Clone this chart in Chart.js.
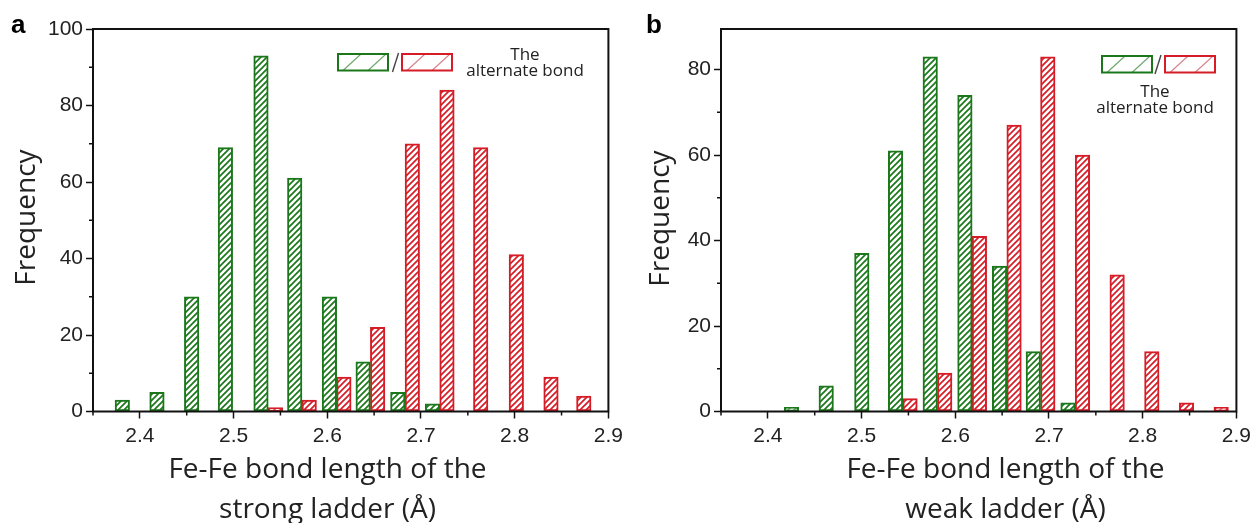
<!DOCTYPE html>
<html><head><meta charset="utf-8">
<script src="https://cdn.jsdelivr.net/npm/chart.js@4.4.1/dist/chart.umd.min.js"></script>
<style>
html,body{margin:0;padding:0;background:#fff;}
#wrap{position:relative;width:1256px;height:523px;overflow:hidden;background:#fff;}
canvas{position:absolute;top:0;}
#ca{left:0}
#cb{left:628px}
</style></head><body>
<div id="wrap"><canvas id="ca" width="628" height="523"></canvas><canvas id="cb" width="628" height="523"></canvas></div>
<script>
// ---- data ----
const binsA  = [2.389, 2.426, 2.463, 2.499, 2.537, 2.573, 2.610, 2.646, 2.683, 2.720, 2.756, 2.794, 2.831, 2.866];
const greenA = [3, 5, 30, 69, 93, 61, 30, 13, 5, 2, 0, 0, 0, 0];
const redA   = [0, 0, 0, 0, 1, 3, 9, 22, 70, 84, 69, 41, 9, 4];

const binsB  = [2.433, 2.470, 2.508, 2.544, 2.581, 2.618, 2.655, 2.691, 2.728, 2.765, 2.802, 2.839, 2.876];
const greenB = [1, 6, 37, 61, 83, 74, 34, 14, 2, 0, 0, 0, 0];
const redB   = [0, 0, 0, 3, 9, 41, 67, 83, 60, 32, 14, 2, 1];

const xTicks  = [2.4, 2.5, 2.6, 2.7, 2.8, 2.9];
const xMinor  = [2.35, 2.45, 2.55, 2.65, 2.75, 2.85];
const yTicksA = [0, 20, 40, 60, 80, 100];
const yMinorA = [10, 30, 50, 70, 90];
const yTicksB = [0, 20, 40, 60, 80];
const yMinorB = [10, 30, 50, 70];

const xTitleA = ['Fe-Fe bond length of the', 'strong ladder (Å)'];
const xTitleB = ['Fe-Fe bond length of the', 'weak ladder (Å)'];
const yTitle = 'Frequency';
const legendText = ['The', 'alternate bond'];

const GREEN = '#1a781a';
const RED = '#d61c26';

function hatch(color) {
  const s = 6;
  const c = document.createElement('canvas'); c.width = s; c.height = s;
  const g = c.getContext('2d');
  g.fillStyle = '#fff'; g.fillRect(0, 0, s, s);
  g.strokeStyle = color; g.lineWidth = 1.7;
  g.beginPath();
  g.moveTo(0, s); g.lineTo(s, 0);
  g.moveTo(-1, 1); g.lineTo(1, -1);
  g.moveTo(s - 1, s + 1); g.lineTo(s + 1, s - 1);
  g.stroke();
  return g.createPattern(c, 'repeat');
}

function toPoints(bins, vals) {
  return bins.map((b, i) => ({ x: b, y: vals[i] === 0 ? null : vals[i] }));
}

function legendBox(ctx, x, y, w, h, color, light) {
  ctx.save();
  ctx.beginPath(); ctx.rect(x, y, w, h); ctx.clip();
  ctx.strokeStyle = light; ctx.lineWidth = 1.2;
  ctx.beginPath();
  [5, 30].forEach(o => { ctx.moveTo(x + o, y + h); ctx.lineTo(x + o + 18, y); });
  ctx.stroke();
  ctx.restore();
  ctx.strokeStyle = color; ctx.lineWidth = 2;
  ctx.strokeRect(x, y, w, h);
}

function decor(p) {
  return {
    id: 'decor',
    afterDraw(chart) {
      const ctx = chart.ctx, a = chart.chartArea, xs = chart.scales.x, ys = chart.scales.y;
      ctx.save();
      ctx.strokeStyle = '#111'; ctx.lineWidth = 1.5;
      ctx.beginPath();
      xMinor.forEach(v => { const px = xs.getPixelForValue(v); ctx.moveTo(px, a.bottom); ctx.lineTo(px, a.bottom + 4); });
      p.yMinor.forEach(v => { const py = ys.getPixelForValue(v); ctx.moveTo(a.left, py); ctx.lineTo(a.left - 4, py); });
      ctx.stroke();
      ctx.lineWidth = 2;
      ctx.strokeRect(a.left, a.top, a.right - a.left, a.bottom - a.top);
      ctx.fillStyle = '#222';
      ctx.font = '28px "Open Sans"';
      ctx.textAlign = 'center'; ctx.textBaseline = 'alphabetic';
      ctx.fillText(p.xTitle[0], p.tx, 478);
      ctx.fillText(p.xTitle[1], p.tx, 518);
      ctx.save();
      ctx.translate(p.yBase, p.yCenter); ctx.rotate(-Math.PI / 2);
      ctx.fillText(yTitle, 0, 0);
      ctx.restore();
      ctx.font = 'bold 26px "Liberation Sans"';
      ctx.textAlign = 'left';
      ctx.fillStyle = '#000';
      ctx.fillText(p.letter, p.letterX, 33);
      const L = p.legend;
      legendBox(ctx, L.gx, L.y, L.w, 16.5, GREEN, 'rgba(60,140,60,0.75)');
      legendBox(ctx, L.rx, L.y, L.w, 16.5, RED, 'rgba(200,90,100,0.75)');
      ctx.strokeStyle = '#444'; ctx.lineWidth = 1.4;
      ctx.beginPath(); ctx.moveTo(L.sx - 3, L.y + 18); ctx.lineTo(L.sx + 3, L.y - 1); ctx.stroke();
      ctx.fillStyle = '#222';
      ctx.font = '17px "Open Sans"'; ctx.textAlign = 'center';
      ctx.fillText(legendText[0], L.tx, L.b1);
      ctx.fillText(legendText[1], L.tx, L.b2);
      ctx.restore();
    }
  };
}

function makeChart(id, p) {
  const ctx = document.getElementById(id).getContext('2d');
  return new Chart(ctx, {
    type: 'bar',
    data: {
      datasets: [
        { data: toPoints(p.bins, p.green), backgroundColor: hatch(GREEN), borderColor: GREEN, borderWidth: 2, borderSkipped: false },
        { data: toPoints(p.bins, p.red), backgroundColor: hatch(RED), borderColor: RED, borderWidth: 2, borderSkipped: false }
      ]
    },
    options: {
      responsive: false, animation: false, devicePixelRatio: 1,
      layout: { padding: { top: 29, right: p.rightPad, left: 0, bottom: 0 } },
      datasets: { bar: { barThickness: 14.5, grouped: true } },
      plugins: { legend: { display: false }, tooltip: { enabled: false } },
      scales: {
        x: {
          type: 'linear', min: 2.35, max: 2.9, offset: false,
          afterBuildTicks: s => { s.ticks = xTicks.map(v => ({ value: v })); },
          afterFit: s => { s.height = 111.5; },
          grid: { offset: false, drawOnChartArea: false, drawTicks: true, tickLength: 7, tickColor: '#111', tickWidth: 1.5 },
          border: { display: false },
          ticks: { color: '#222', padding: 5, font: { family: 'Liberation Sans', size: 21 }, maxRotation: 0, callback: v => Number(v).toFixed(1) }
        },
        y: {
          min: 0, max: p.yMax,
          afterBuildTicks: s => { s.ticks = p.yTicks.map(v => ({ value: v })); },
          afterFit: s => { s.width = 93; },
          grid: { drawOnChartArea: false, drawTicks: true, tickLength: 7, tickColor: '#111', tickWidth: 1.5 },
          border: { display: false },
          ticks: { color: '#222', padding: 3, font: { family: 'Liberation Sans', size: 21 }, callback: v => String(v) }
        }
      }
    },
    plugins: [decor(p)]
  });
}

makeChart('ca', {
  bins: binsA, green: greenA, red: redA, yMax: 100, yTicks: yTicksA, yMinor: yMinorA, rightPad: 18,
  xTitle: xTitleA, tx: 327.5, yBase: 35, yCenter: 217.5, letter: 'a', letterX: 11,
  legend: { gx: 338, rx: 402, sx: 395.5, y: 54, w: 50, tx: 525, b1: 59.5, b2: 76 }
});
makeChart('cb', {
  bins: binsB, green: greenB, red: redB, yMax: 89.5, yTicks: yTicksB, yMinor: yMinorB, rightPad: 19.3,
  xTitle: xTitleB, tx: 377.5, yBase: 41, yCenter: 218.5, letter: 'b', letterX: 18,
  legend: { gx: 474, rx: 537, sx: 530, y: 56, w: 50, tx: 527, b1: 96.5, b2: 113 }
});
</script>
</body></html>
